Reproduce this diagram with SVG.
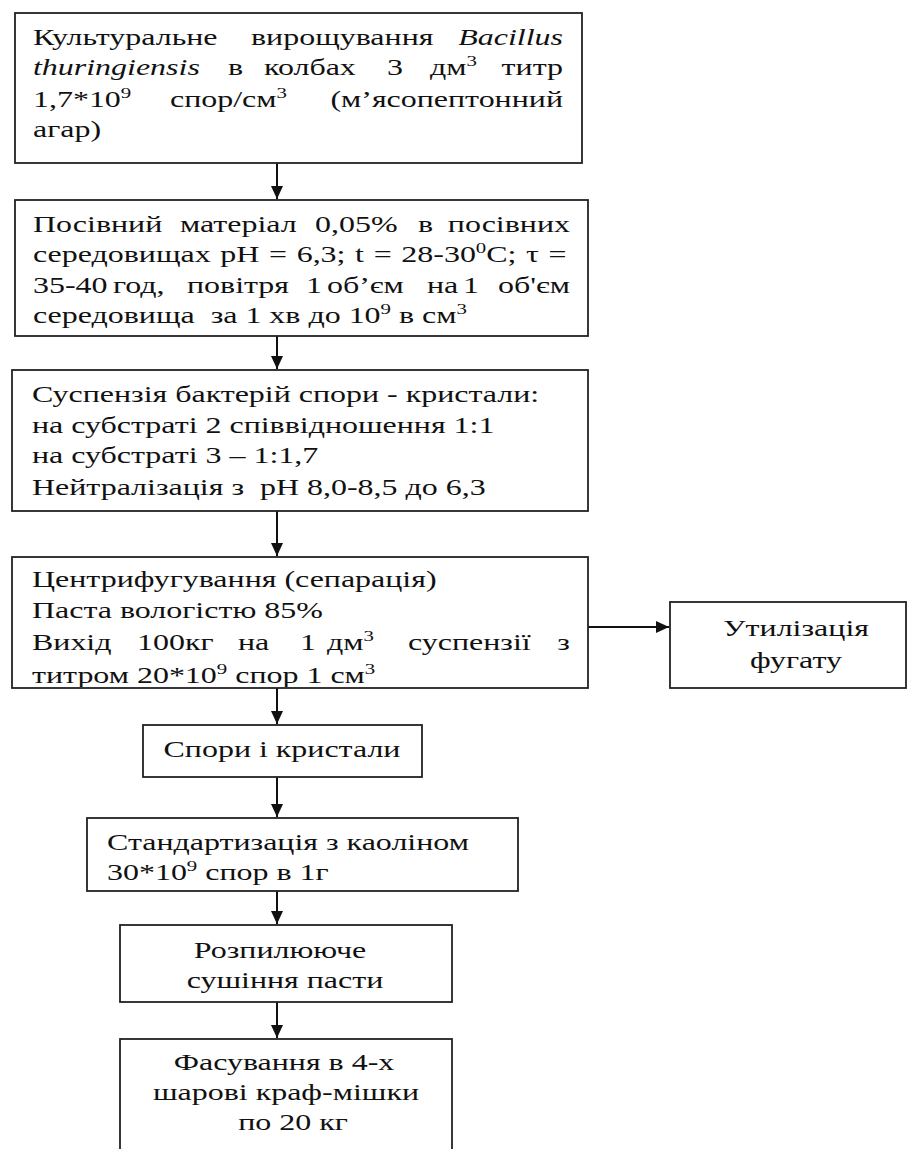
<svg xmlns="http://www.w3.org/2000/svg" width="907" height="1149" viewBox="0 0 907 1149">
<style>
.box{fill:#fff;stroke:#222;stroke-width:1.8}
.t{font-family:"Liberation Serif","Times New Roman",serif;font-size:23px;fill:#111}
.i{font-style:italic}
.c{text-anchor:middle}
.e{text-anchor:end}
.sup{font-size:15px}
.conn{stroke:#111;stroke-width:2;fill:none}
</style>
<defs>
<marker id="ah" markerUnits="userSpaceOnUse" markerWidth="14" markerHeight="14" refX="13" refY="6" orient="auto">
<path d="M0,0 L13,6 L0,12 z" fill="#111"/>
</marker>
<clipPath id="clip4"><rect x="12" y="557" width="576" height="130"/></clipPath>
</defs>
<g id="connectors">
<line class="conn" x1="277" y1="163" x2="277" y2="199" marker-end="url(#ah)"/>
<line class="conn" x1="277" y1="336" x2="277" y2="369" marker-end="url(#ah)"/>
<line class="conn" x1="277" y1="511" x2="277" y2="556" marker-end="url(#ah)"/>
<line class="conn" x1="588" y1="627" x2="669" y2="627" marker-end="url(#ah)"/>
<line class="conn" x1="277" y1="688" x2="277" y2="724" marker-end="url(#ah)"/>
<line class="conn" x1="277" y1="777" x2="277" y2="817" marker-end="url(#ah)"/>
<line class="conn" x1="277" y1="891" x2="277" y2="924" marker-end="url(#ah)"/>
<line class="conn" x1="277" y1="1002" x2="277" y2="1038" marker-end="url(#ah)"/>
</g>
<g id="n1">
<rect class="box" x="15" y="13" width="567" height="150"/>
<g transform="scale(1.39 1)">
<text class="t" x="23.74" y="45">Культуральне</text>
<text class="t" x="180.58" y="45">вирощування</text>
<text class="t i e" x="405.04" y="45">Bacillus</text>
<text class="t i" x="23.74" y="75">thuringiensis</text>
<text class="t" x="164.03" y="75">в</text>
<text class="t" x="189.93" y="75">колбах</text>
<text class="t" x="278.42" y="75">3</text>
<text class="t" x="309.35" y="75">дм<tspan class="sup" dy="-9">3</tspan></text>
<text class="t e" x="405.04" y="75">титр</text>
<text class="t" x="23.74" y="107">1,7*10<tspan class="sup" dy="-9">9</tspan></text>
<text class="t" x="122.30" y="107">спор/см<tspan class="sup" dy="-9">3</tspan></text>
<text class="t e" x="405.04" y="107">(м’ясопептонний</text>
<text class="t" x="23.74" y="137">агар)</text>
</g>
</g>
<g id="n2">
<rect class="box" x="15" y="200" width="573" height="136"/>
<g transform="scale(1.39 1)">
<text class="t" x="23.74" y="232">Посівний</text>
<text class="t" x="129.50" y="232">матеріал</text>
<text class="t" x="226.62" y="232">0,05%</text>
<text class="t" x="300.72" y="232">в</text>
<text class="t e" x="410.07" y="232">посівних</text>
<text class="t" x="23.74" y="262" word-spacing="1.2">середовищах рН = 6,3; t = 28-30<tspan class="sup" dy="-9">0</tspan><tspan dy="9">C; τ =</tspan></text>
<text class="t" x="23.74" y="293">35-40</text>
<text class="t" x="81.29" y="293">год,</text>
<text class="t" x="134.53" y="293">повітря</text>
<text class="t" x="220.14" y="293">1</text>
<text class="t" x="235.25" y="293">об’єм</text>
<text class="t" x="307.19" y="293">на</text>
<text class="t" x="333.09" y="293">1</text>
<text class="t e" x="410.07" y="293">об'єм</text>
<text class="t" x="23.74" y="323" xml:space="preserve">середовища  за 1 хв до 10<tspan class="sup" dy="-9">9</tspan><tspan dy="9"> в см</tspan><tspan class="sup" dy="-9">3</tspan></text>
</g>
</g>
<g id="n3">
<rect class="box" x="12" y="370" width="576" height="141"/>
<g transform="scale(1.39 1)">
<text class="t" x="23.02" y="402">Суспензія бактерій спори - кристали:</text>
<text class="t" x="23.02" y="433">на субстраті 2 співвідношення 1:1</text>
<text class="t" x="23.02" y="463">на субстраті 3 – 1:1,7</text>
<text class="t" x="23.02" y="495" xml:space="preserve">Нейтралізація з  рН 8,0-8,5 до 6,3</text>
</g>
</g>
<g id="n4">
<rect class="box" x="12" y="557" width="576" height="131"/>
<g transform="scale(1.39 1)">
<text class="t" x="23.02" y="587">Центрифугування (сепарація)</text>
<text class="t" x="23.02" y="618">Паста вологістю 85%</text>
<text class="t" x="23.02" y="650">Вихід</text>
<text class="t" x="98.56" y="650">100кг</text>
<text class="t" x="171.22" y="650">на</text>
<text class="t" x="215.83" y="650">1</text>
<text class="t" x="235.25" y="650">дм<tspan class="sup" dy="-9">3</tspan></text>
<text class="t" x="293.53" y="650">суспензії</text>
<text class="t e" x="410.07" y="650">з</text>
</g>
<g clip-path="url(#clip4)">
<g transform="scale(1.39 1)">
<text class="t" x="23.02" y="683">титром 20*10<tspan class="sup" dy="-9">9</tspan><tspan dy="9"> спор 1 см</tspan><tspan class="sup" dy="-9">3</tspan></text>
</g>
</g>
</g>
<g id="n5">
<rect class="box" x="670" y="602" width="236" height="86"/>
<g transform="scale(1.39 1)">
<text class="t c" x="572.66" y="636">Утилізація</text>
<text class="t c" x="572.66" y="668">фугату</text>
</g>
</g>
<g id="n6">
<rect class="box" x="143" y="725" width="279" height="52"/>
<g transform="scale(1.39 1)">
<text class="t c" x="202.88" y="757">Спори і кристали</text>
</g>
</g>
<g id="n7">
<rect class="box" x="87" y="818" width="431" height="73"/>
<g transform="scale(1.39 1)">
<text class="t" x="76.98" y="850">Стандартизація з каоліном</text>
<text class="t" x="76.98" y="880">30*10<tspan class="sup" dy="-9">9</tspan><tspan dy="9"> спор в 1г</tspan></text>
</g>
</g>
<g id="n8">
<rect class="box" x="120" y="925" width="332" height="77"/>
<g transform="scale(1.39 1)">
<text class="t c" x="201.44" y="958">Розпилююче</text>
<text class="t c" x="205.04" y="988">сушіння пасти</text>
</g>
</g>
<g id="n9">
<rect class="box" x="120" y="1039" width="332" height="130"/>
<g transform="scale(1.39 1)">
<text class="t c" x="204.32" y="1070">Фасування в 4-х</text>
<text class="t c" x="205.76" y="1100">шарові краф-мішки</text>
<text class="t c" x="210.79" y="1130">по 20 кг</text>
</g>
</g>
</svg>
